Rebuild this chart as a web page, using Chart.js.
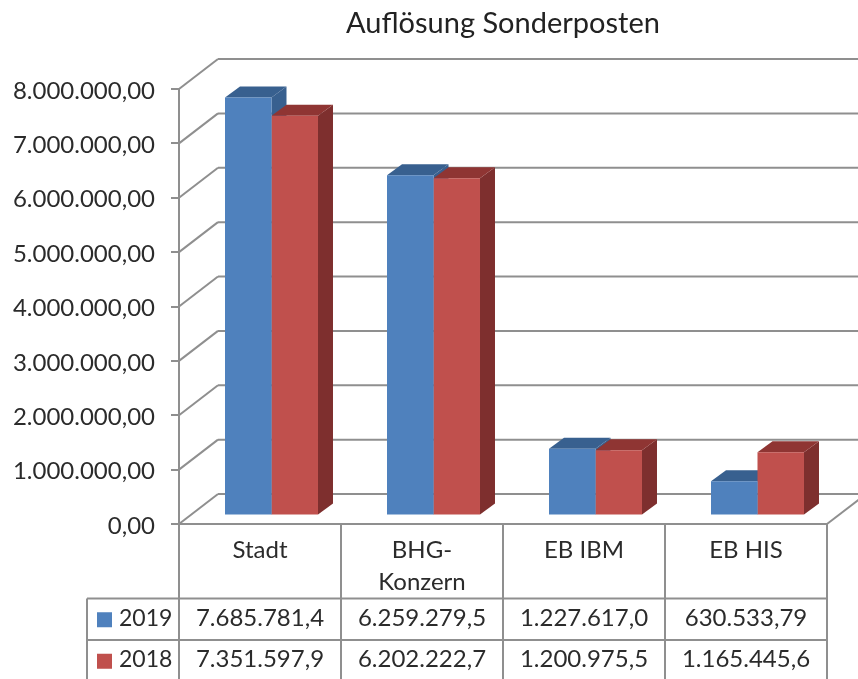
<!DOCTYPE html>
<html>
<head>
<meta charset="utf-8">
<title>Auflösung Sonderposten</title>
<script src="https://cdn.jsdelivr.net/npm/chart.js@4"></script>
<style>
    html, body { margin: 0; padding: 0; background: #fff; overflow: hidden; }
    canvas { display: block; }
</style>
</head>
<body>
<canvas id="sonderpostenChart" width="858" height="679"></canvas>
<script>
const categories = [['Stadt'], ['BHG-', 'Konzern'], ['EB IBM'], ['EB HIS']];
const values2019 = [7685781.4, 6259279.5, 1227617.0, 630533.79];
const values2018 = [7351597.9, 6202222.7, 1200975.5, 1165445.6];
const row2019 = ['7.685.781,4', '6.259.279,5', '1.227.617,0', '630.533,79'];
const row2018 = ['7.351.597,9', '6.202.222,7', '1.200.975,5', '1.165.445,6'];
const yTickLabels = ['0,00', '1.000.000,00', '2.000.000,00', '3.000.000,00', '4.000.000,00',
    '5.000.000,00', '6.000.000,00', '7.000.000,00', '8.000.000,00'];

const FONT = 'Lato, "Open Sans", sans-serif';
const GRID = '#8f8f8f';
const TEXT = '#2b2b2b';

// 3D look: wall depth, where the bar front sits in it, and bar depth
const wall = { dx: 39, dy: -30 };
const barPlane = { dx: 11.5, dy: -8.5 };
const barDepth = { dx: 15, dy: -11 };

function line(ctx, x1, y1, x2, y2) {
    ctx.beginPath();
    ctx.moveTo(x1, y1);
    ctx.lineTo(x2, y2);
    ctx.stroke();
}

function face(ctx, color, pts) {
    ctx.fillStyle = color;
    ctx.beginPath();
    pts.forEach((p, i) => i ? ctx.lineTo(p[0], p[1]) : ctx.moveTo(p[0], p[1]));
    ctx.closePath();
    ctx.fill();
}

const walls3d = {
    id: 'walls3d',
    beforeDatasetsDraw(chart) {
        const { ctx, chartArea, scales } = chart;
        ctx.save();
        ctx.strokeStyle = GRID;
        ctx.lineWidth = 2;
        scales.y.ticks.forEach((t, i) => {
            const y = scales.y.getPixelForTick(i);
            line(ctx, chartArea.left, y, chartArea.left + wall.dx, y + wall.dy);
            line(ctx, chartArea.left + wall.dx, y + wall.dy, chartArea.right + wall.dx, y + wall.dy);
        });
        line(ctx, chartArea.right, chartArea.bottom, chartArea.right + wall.dx, chartArea.bottom + wall.dy);
        ctx.restore();
    }
};

const bars3d = {
    id: 'bars3d',
    // side and top faces go first, 2019 under 2018; the fronts then land on top
    beforeDatasetsDraw(chart) {
        const ctx = chart.ctx;
        ctx.save();
        ctx.translate(barPlane.dx, barPlane.dy);
        chart.data.datasets.forEach((ds, index) => {
            chart.getDatasetMeta(index).data.forEach(bar => {
                const { x, y, base, width } = bar.getProps(['x', 'y', 'base', 'width'], true);
                const l = x - width / 2, r = x + width / 2;
                const dx = barDepth.dx, dy = barDepth.dy;
                face(ctx, ds.sideColor, [[r, y], [r + dx, y + dy], [r + dx, base + dy], [r, base]]);
                face(ctx, ds.topColor, [[l, y], [l + dx, y + dy], [r + dx, y + dy], [r, y]]);
            });
        });
        ctx.restore();
    },
    beforeDatasetDraw(chart) {
        chart.ctx.save();
        chart.ctx.translate(barPlane.dx, barPlane.dy);
    },
    afterDatasetDraw(chart) {
        chart.ctx.restore();
    }
};

const dataTable = {
    id: 'dataTable',
    afterDraw(chart) {
        const { ctx, chartArea, scales } = chart;
        const left = 87, top = 598.5, rowH = 41.5, bottom = 682;
        const cols = [chartArea.left];
        categories.forEach((c, i) => cols.push(chartArea.left + (chartArea.right - chartArea.left) * (i + 1) / categories.length));
        ctx.save();
        ctx.strokeStyle = GRID;
        ctx.lineWidth = 2;
        cols.forEach(x => line(ctx, x, chartArea.bottom, x, bottom));
        line(ctx, left, top, left, bottom);
        line(ctx, left, top, chartArea.right, top);
        line(ctx, left, top + rowH, chartArea.right, top + rowH);

        ctx.textBaseline = 'middle';
        chart.data.datasets.forEach((ds, r) => {
            const cy = top + rowH * r + rowH / 2 - 1;
            ctx.fillStyle = ds.backgroundColor;
            ctx.fillRect(97, cy - 6, 15, 15);
            ctx.fillStyle = TEXT;
            ctx.textAlign = 'left';
            ctx.font = '23px ' + FONT;
            ctx.fillText(ds.label, 119, cy);
            ctx.textAlign = 'center';
            ctx.font = '24px ' + FONT;
            ds.tableRow.forEach((txt, i) => ctx.fillText(txt, scales.x.getPixelForTick(i), cy));
        });
        ctx.restore();
    }
};

new Chart(document.getElementById('sonderpostenChart').getContext('2d'), {
    type: 'bar',
    data: {
        labels: categories,
        datasets: [
            {
                label: '2019',
                data: values2019,
                tableRow: row2019,
                backgroundColor: '#4f81bd',
                sideColor: '#38608f',
                topColor: '#38608f'
            },
            {
                label: '2018',
                data: values2018,
                tableRow: row2018,
                backgroundColor: '#c0504d',
                sideColor: '#7e2f2e',
                topColor: '#8f3533'
            }
        ]
    },
    options: {
        responsive: false,
        animation: false,
        clip: false,
        barPercentage: 1,
        categoryPercentage: 0.574,
        layout: { padding: { right: 31 } },
        scales: {
            x: {
                afterFit(scale) { scale.height = 155; },
                grid: { display: false },
                border: { color: GRID, width: 2 },
                ticks: {
                    autoSkip: false,
                    maxRotation: 0,
                    padding: 3,
                    color: TEXT,
                    font: { family: FONT, size: 24, lineHeight: 1.3 }
                }
            },
            y: {
                min: 0,
                max: 8000000,
                afterFit(scale) { scale.width = 179; },
                grid: { drawOnChartArea: false, color: GRID, lineWidth: 2, tickLength: 8 },
                border: { color: GRID, width: 2 },
                ticks: {
                    stepSize: 1000000,
                    padding: 16,
                    labelOffset: 2,
                    color: TEXT,
                    font: { family: FONT, size: 24 },
                    callback: (v, i) => yTickLabels[i]
                }
            }
        },
        plugins: {
            legend: { display: false },
            tooltip: { enabled: false },
            title: {
                display: true,
                text: 'Auflösung Sonderposten',
                fullSize: false,
                color: '#222',
                font: { family: FONT, size: 29, weight: 'normal', lineHeight: 1.2 },
                padding: { top: 6, bottom: 48.2 }
            }
        }
    },
    plugins: [walls3d, bars3d, dataTable]
});
</script>
</body>
</html>
